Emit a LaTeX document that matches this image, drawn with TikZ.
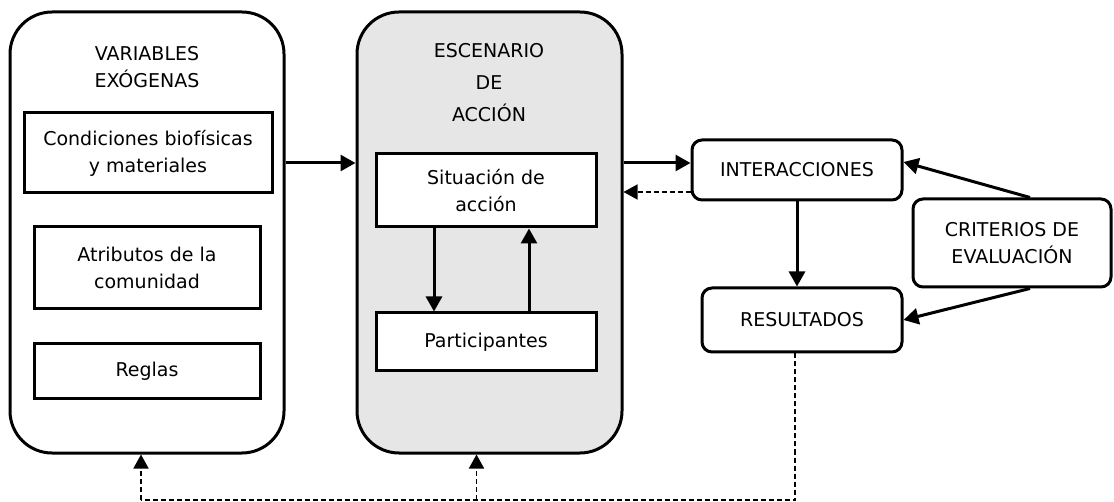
\documentclass[tikz,border=0pt]{standalone}
\usepackage{fontspec}
\setmainfont{DejaVu Sans}
\usetikzlibrary{arrows.meta}
\definecolor{escgray}{RGB}{230,230,230}

\begin{document}
\begin{tikzpicture}[x=1pt, y=-1pt, line width=3pt, >={Triangle[length=15pt,width=16pt]},
        font=\fontsize{19}{27}\selectfont,
        bigbox/.style={draw, rounded corners=42pt, inner sep=0pt},
        inbox/.style={draw, fill=white, align=center, inner sep=0pt},
        roundbox/.style={draw, fill=white, rounded corners=10pt, align=center, inner sep=0pt},
        title/.style={align=center, inner sep=0pt},
        fbline/.style={line width=1.5pt, dash pattern=on 5pt off 3pt},
        fbarrow/.style={fbline, -{Triangle[length=14pt,width=15pt]}}]
            \useasboundingbox (0,0) rectangle (1114,502);

            % variables exogenas
            \node[bigbox, minimum width=274pt, minimum height=441pt] (varbox) at (147,232.5) {};
            \node[title] (vartitle) at (147,67.5) {VARIABLES\\EXÓGENAS};
            \node[inbox, minimum width=248pt, minimum height=80pt] (cond) at (148,153) {Condiciones biofísicas\\y materiales};
            \node[inbox, minimum width=226pt, minimum height=82pt] (atrib) at (147,268) {Atributos de la\\comunidad};
            \node[inbox, minimum width=226pt, minimum height=55pt] (reglas) at (147,371.5) {Reglas};

            % escenario de accion
            \node[bigbox, fill=escgray, minimum width=265pt, minimum height=441pt] (escbox) at (489.5,232.5) {};
            \node[title] (esctitle) at (489,83) {ESCENARIO\\[5pt]DE\\[5pt]ACCIÓN};
            \node[inbox, minimum width=220pt, minimum height=73pt] (sit) at (486,190.5) {Situación de\\acción};
            \node[inbox, minimum width=220pt, minimum height=58pt] (part) at (486,342) {Participantes};

            % resultados
            \node[roundbox, minimum width=210pt, minimum height=60pt] (inter) at (797,170) {INTERACCIONES};
            \node[roundbox, minimum width=200pt, minimum height=64pt] (result) at (802,320) {RESULTADOS};
            \node[roundbox, minimum width=198pt, minimum height=88pt] (crit) at (1012,243) {CRITERIOS DE\\EVALUACIÓN};

            \coordinate (interin) at ([yshift=7pt]inter.west);
            \coordinate (interout) at ([yshift=-22pt]inter.west);
            \draw[->] (varbox.east |- interin) -- (escbox.west |- interin);
            \draw[->] (escbox.east |- interin) -- (interin);
            \draw[fbarrow] (interout) -- (escbox.east |- interout);
            \draw[->] ([xshift=-52pt]sit.south) -- ([xshift=-52pt]part.north);
            \draw[->] ([xshift=43pt]part.north) -- ([xshift=43pt]sit.south);
            \draw[->] (inter.south) -- (inter.south |- result.north);
            \draw[->] ([xshift=18pt]crit.north) -- ([yshift=8pt]inter.east);
            \draw[->] ([xshift=18pt]crit.south) -- (result.east);

            % retroalimentacion
            \coordinate (fbbase) at (0,500);
            \coordinate (fbr) at ([xshift=-7pt]result.south);
            \coordinate (fbv) at ([xshift=-6pt]varbox.south);
            \coordinate (fbe) at ([xshift=-13pt]escbox.south);
            \draw[fbline] (fbr) |- (fbv |- fbbase);
            \draw[fbarrow] (fbv |- fbbase) -- (fbv);
            \draw[fbarrow] (fbe |- fbbase) -- (fbe);
        \end{tikzpicture}
\end{document}
